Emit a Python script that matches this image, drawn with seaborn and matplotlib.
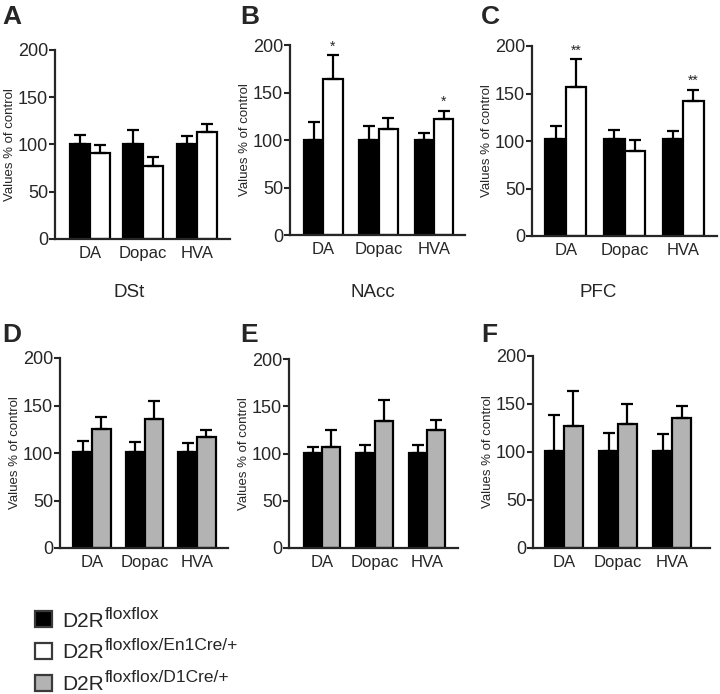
import numpy as np
import pandas as pd
import seaborn as sns
import matplotlib.pyplot as plt
from matplotlib.patches import Patch

# ---------------- data ----------------
compounds = ["DA", "Dopac", "HVA"]
genotypes = ["floxflox", "floxflox/En1Cre/+", "floxflox/D1Cre/+"]

# top row: D2R floxflox vs floxflox/En1Cre/+
A_ctrl = [101, 101, 101]
A_ctrl_sem = [9, 14, 8]
A_mut = [91, 77, 113]
A_mut_sem = [8, 10, 9]

B_ctrl = [100, 100, 100]
B_ctrl_sem = [19, 15, 7]
B_mut = [164, 112, 122]
B_mut_sem = [25, 11, 9]
B_stars = ["*", "", "*"]

C_ctrl = [102, 102, 102]
C_ctrl_sem = [14, 10, 9]
C_mut = [157, 89, 142]
C_mut_sem = [29, 12, 12]
C_stars = ["**", "", "**"]

# bottom row: D2R floxflox vs floxflox/D1Cre/+
D_ctrl = [101, 101, 101]
D_ctrl_sem = [12, 11, 10]
D_mut = [125, 136, 117]
D_mut_sem = [13, 19, 7]

E_ctrl = [101, 101, 101]
E_ctrl_sem = [6, 8, 8]
E_mut = [107, 134, 125]
E_mut_sem = [18, 23, 10]

F_ctrl = [101, 101, 101]
F_ctrl_sem = [38, 19, 18]
F_mut = [127, 129, 135]
F_mut_sem = [37, 21, 13]

regions = ["DSt", "NAcc", "PFC"]

BLACK = "#000000"
WHITE = "#ffffff"
GREY = "#b3b3b3"

sns.set_style("ticks")
plt.rcParams["font.family"] = ["Liberation Sans", "DejaVu Sans"]

W, H = 720, 694
fig = plt.figure(figsize=(7.2, 6.94), dpi=100)


def add_axes_px(left, top, right, bottom):
    return fig.add_axes([left / W, 1 - bottom / H, (right - left) / W, (bottom - top) / H])


def panel(ax, ctrl, ctrl_sem, mut, mut_sem, mut_label, mut_color, width, xlim, stars=None):
    df = pd.DataFrame({
        "compound": compounds * 2,
        "genotype": [genotypes[0]] * 3 + [mut_label] * 3,
        "value": ctrl + mut,
    })
    sns.barplot(data=df, x="compound", y="value", hue="genotype",
                hue_order=[genotypes[0], mut_label],
                palette=[BLACK, mut_color], saturation=1, errorbar=None,
                width=width, gap=0, edgecolor="black", linewidth=1.6,
                legend=False, ax=ax)
    # one-sided (upper) SEM bars centred on each bar
    for i, (cont, sem) in enumerate(zip(ax.containers, [ctrl_sem, mut_sem])):
        xs = [b.get_x() + b.get_width() / 2 for b in cont]
        hs = [b.get_height() for b in cont]
        ax.errorbar(xs, hs, yerr=[np.zeros(len(sem)), sem], fmt="none",
                    ecolor="black", elinewidth=1.6, capsize=4.5, capthick=1.6,
                    clip_on=False, zorder=3)
        if stars is not None and i == 1:
            for x, h, s, st in zip(xs, hs, sem, stars):
                if st:
                    ax.text(x, h + s + 2, st, ha="center", va="bottom", fontsize=10)
    ax.set_ylim(0, 200)
    ax.set_xlim(*xlim)
    ax.set_yticks([0, 50, 100, 150, 200])
    ax.set_xlabel("")
    ax.set_ylabel("Values % of control", fontsize=9.5, labelpad=1)
    ax.tick_params(axis="y", labelsize=13, length=4, width=1.5, pad=1)
    ax.tick_params(axis="x", labelsize=12, length=0, pad=5)
    sns.despine(ax=ax)
    for sp in ["left", "bottom"]:
        ax.spines[sp].set_linewidth(1.6)


axA = add_axes_px(55, 50, 230, 239)
panel(axA, A_ctrl, A_ctrl_sem, A_mut, A_mut_sem, genotypes[1], WHITE, 0.75, (-0.65, 2.62))
axB = add_axes_px(290, 45, 465, 235)
panel(axB, B_ctrl, B_ctrl_sem, B_mut, B_mut_sem, genotypes[1], WHITE, 0.70, (-0.6, 2.56), B_stars)
axC = add_axes_px(532, 46, 717, 236)
panel(axC, C_ctrl, C_ctrl_sem, C_mut, C_mut_sem, genotypes[1], WHITE, 0.70, (-0.58, 2.58), C_stars)
axD = add_axes_px(60, 358, 228, 548)
panel(axD, D_ctrl, D_ctrl_sem, D_mut, D_mut_sem, genotypes[2], GREY, 0.72, (-0.61, 2.59))
axE = add_axes_px(289, 359, 458, 548)
panel(axE, E_ctrl, E_ctrl_sem, E_mut, E_mut_sem, genotypes[2], GREY, 0.70, (-0.63, 2.59))
axF = add_axes_px(533, 356, 710, 548)
panel(axF, F_ctrl, F_ctrl_sem, F_mut, F_mut_sem, genotypes[2], GREY, 0.70, (-0.57, 2.7))

# panel letters
for letter, (x, y) in zip("ABCDEF", [(2, 24), (240, 24), (481, 24),
                                     (2, 342), (240, 342), (481, 342)]):
    fig.text(x / W, 1 - y / H, letter, fontsize=19, fontweight="bold",
             ha="left", va="baseline")

# region names under the top row
for name, x in zip(regions, [129, 373, 598]):
    fig.text(x / W, 1 - 297 / H, name, fontsize=13.5, ha="center", va="baseline")

# legend: squares + "D2R", superscripts added next to each label
handles = [Patch(facecolor=c, edgecolor="#3a3a3a", linewidth=1.6) for c in [BLACK, WHITE, GREY]]
leg = fig.legend(handles, ["D2R"] * 3, loc="lower left", bbox_to_anchor=(35 / W, 0.0),
                 frameon=False, fontsize=15, handlelength=0.8, handleheight=0.8,
                 handletextpad=0.5, labelspacing=0.6, borderpad=0.0, borderaxespad=0.0)
fig.canvas.draw()
for t, g in zip(leg.get_texts(), genotypes):
    bb = t.get_window_extent()
    fig.text(bb.x1 / W + 1 / W, (bb.y0 + 12) / H, g, fontsize=12.5,
             ha="left", va="baseline")

fig.savefig("out.png", dpi=100)
